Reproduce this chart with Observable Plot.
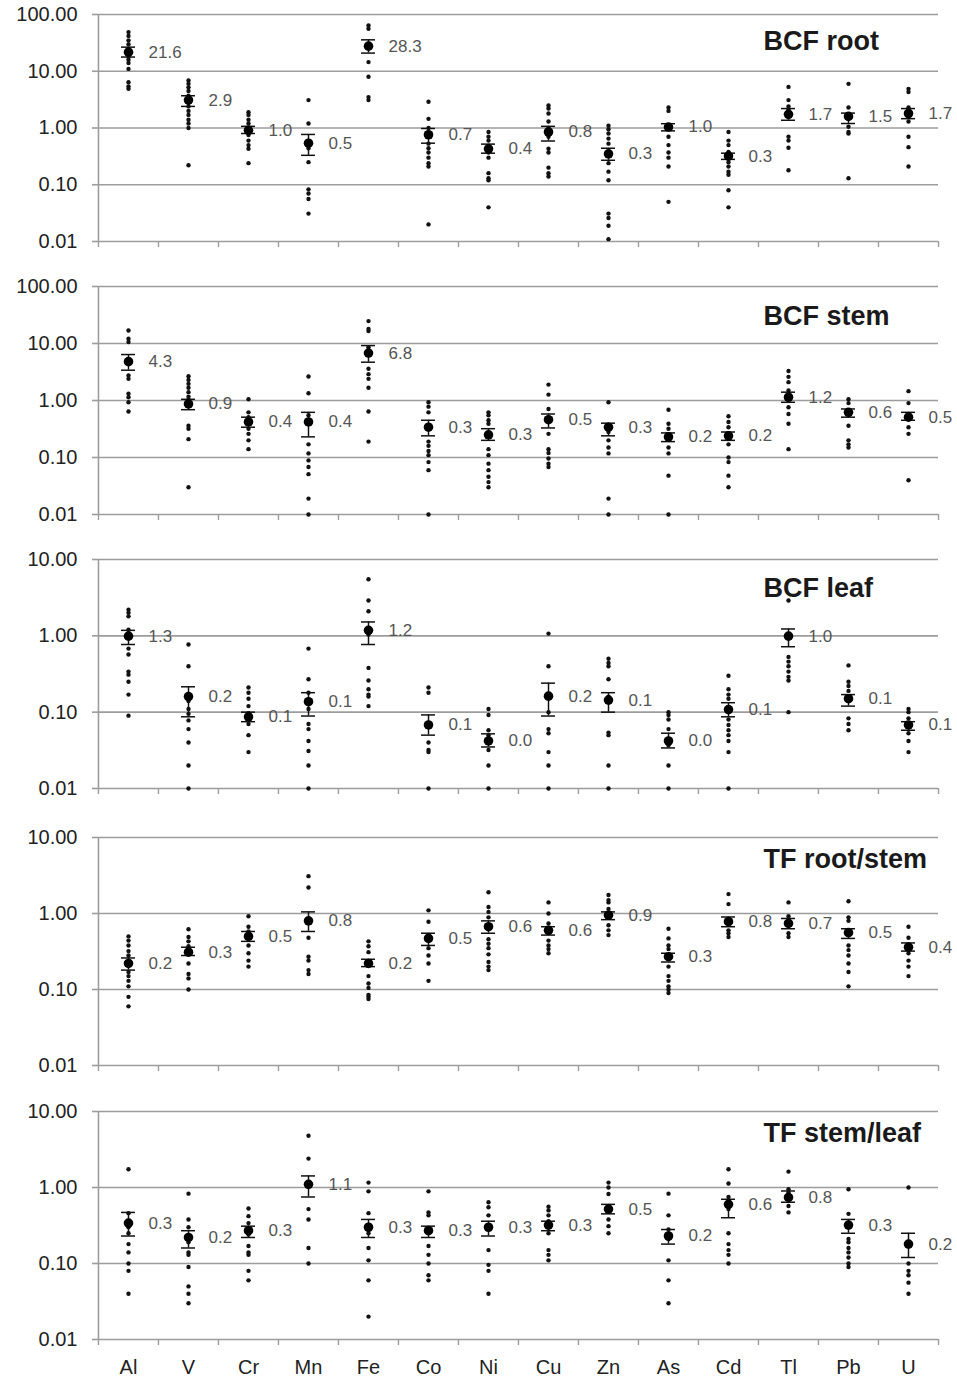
<!DOCTYPE html>
<html><head><meta charset="utf-8">
<script src="https://cdn.jsdelivr.net/npm/d3@7"></script>
<script src="https://cdn.jsdelivr.net/npm/@observablehq/plot@0.6"></script>
<style>
html,body{margin:0;padding:0;background:#fff;}
#chart{position:relative;width:957px;height:1379px;font-family:"Liberation Sans",Arial,sans-serif;}
#chart svg{position:absolute;left:0;overflow:visible;}
</style></head><body><div id="chart"></div>
<script>
const elements = ["Al","V","Cr","Mn","Fe","Co","Ni","Cu","Zn","As","Cd","Tl","Pb","U"];
const ticksWide = [0.01, 0.1, 1, 10, 100];
const ticksNarrow = [0.01, 0.1, 1, 10];

// ---- BCF root ----
const rootDots = [
  [49, 42, 35, 30, 25, 18, 16, 14, 11, 6.4, 5.4, 4.9],
  [6.9, 6.0, 5.2, 4.5, 3.7, 2.8, 2.4, 2.0, 1.7, 1.4, 1.2, 1.0, 0.22],
  [1.9, 1.7, 1.4, 1.2, 1.0, 0.87, 0.75, 0.6, 0.5, 0.43, 0.24],
  [3.1, 1.2, 0.44, 0.25, 0.083, 0.07, 0.056, 0.031],
  [64, 56, 30, 14.5, 8, 3.5, 3.1],
  [2.9, 1.45, 1.0, 0.53, 0.44, 0.37, 0.3, 0.24, 0.21, 0.02],
  [0.85, 0.7, 0.6, 0.45, 0.37, 0.3, 0.16, 0.13, 0.12, 0.04],
  [2.5, 2.2, 1.8, 1.3, 1.0, 0.7, 0.43, 0.37, 0.2, 0.16, 0.14],
  [1.1, 0.95, 0.8, 0.65, 0.53, 0.24, 0.17, 0.12, 0.031, 0.026, 0.019, 0.011],
  [2.3, 2.0, 0.7, 0.5, 0.37, 0.3, 0.21, 0.05],
  [0.85, 0.6, 0.5, 0.38, 0.25, 0.21, 0.17, 0.15, 0.08, 0.04],
  [5.3, 3.1, 2.4, 2.1, 0.7, 0.6, 0.45, 0.18],
  [6.0, 2.3, 1.05, 0.85, 0.8, 0.13],
  [4.9, 4.3, 2.3, 2.0, 1.6, 1.3, 0.7, 0.46, 0.21]
];
const rootMean = [21.7, 3.1, 0.91, 0.54, 27.7, 0.76, 0.43, 0.85, 0.35, 1.04, 0.32, 1.74, 1.6, 1.8];
const rootLo   = [17.8, 2.4, 0.8, 0.33, 20.9, 0.54, 0.36, 0.59, 0.27, 0.89, 0.28, 1.37, 1.2, 1.46];
const rootHi   = [26.6, 3.7, 1.07, 0.77, 35.8, 0.98, 0.52, 1.07, 0.44, 1.19, 0.36, 2.2, 1.83, 2.2];
const rootLabels = ["21.6","2.9","1.0","0.5","28.3","0.7","0.4","0.8","0.3","1.0","0.3","1.7","1.5","1.7"];

// ---- BCF stem ----
const stemDots = [
  [16.9, 12.1, 10.6, 2.75, 2.4, 1.31, 1.14, 0.93, 0.64],
  [2.67, 2.3, 1.96, 1.67, 1.4, 1.17, 1.03, 0.36, 0.32, 0.21, 0.03],
  [1.05, 0.62, 0.51, 0.32, 0.26, 0.2, 0.14],
  [2.64, 1.34, 0.55, 0.17, 0.118, 0.089, 0.068, 0.051, 0.019, 0.01],
  [24.7, 18, 16.5, 8.6, 3.6, 2.9, 2.4, 1.67, 0.64, 0.19],
  [0.93, 0.78, 0.62, 0.19, 0.16, 0.13, 0.11, 0.083, 0.06, 0.01],
  [0.62, 0.55, 0.45, 0.39, 0.14, 0.11, 0.078, 0.06, 0.046, 0.037, 0.03],
  [1.9, 1.27, 0.71, 0.26, 0.14, 0.12, 0.096, 0.078, 0.068],
  [0.93, 0.28, 0.2, 0.15, 0.118, 0.019, 0.01],
  [0.69, 0.39, 0.32, 0.15, 0.118, 0.048, 0.01],
  [0.53, 0.42, 0.34, 0.17, 0.1, 0.083, 0.048, 0.03],
  [3.3, 2.6, 2.1, 1.5, 0.76, 0.58, 0.39, 0.14],
  [1.05, 0.9, 0.36, 0.2, 0.17, 0.15],
  [1.46, 0.9, 0.34, 0.26, 0.04]
];
const stemMean = [4.8, 0.87, 0.42, 0.42, 6.8, 0.34, 0.25, 0.46, 0.34, 0.23, 0.24, 1.14, 0.62, 0.51];
const stemLo   = [3.4, 0.69, 0.34, 0.23, 4.7, 0.24, 0.2, 0.33, 0.24, 0.19, 0.2, 0.93, 0.51, 0.45];
const stemHi   = [6.4, 1.05, 0.51, 0.62, 9.2, 0.45, 0.32, 0.58, 0.4, 0.27, 0.28, 1.4, 0.71, 0.62];
const stemLabels = ["4.3","0.9","0.4","0.4","6.8","0.3","0.3","0.5","0.3","0.2","0.2","1.2","0.6","0.5"];

// ---- BCF leaf ----
const leafDots = [
  [2.2, 2.0, 1.8, 1.2, 0.68, 0.57, 0.34, 0.31, 0.25, 0.17, 0.09],
  [0.77, 0.4, 0.14, 0.11, 0.095, 0.078, 0.06, 0.04, 0.02, 0.01],
  [0.21, 0.18, 0.15, 0.12, 0.097, 0.07, 0.05, 0.03],
  [0.68, 0.27, 0.18, 0.11, 0.07, 0.06, 0.042, 0.031, 0.02, 0.01],
  [5.5, 2.9, 2.1, 1.04, 0.38, 0.26, 0.2, 0.17, 0.16, 0.12],
  [0.21, 0.18, 0.04, 0.032, 0.03, 0.01],
  [0.11, 0.092, 0.058, 0.05, 0.032, 0.02, 0.01],
  [1.07, 0.4, 0.1, 0.06, 0.053, 0.03, 0.02, 0.01],
  [0.5, 0.44, 0.4, 0.27, 0.16, 0.054, 0.05, 0.02, 0.01],
  [0.1, 0.092, 0.08, 0.06, 0.037, 0.02, 0.01],
  [0.3, 0.2, 0.17, 0.15, 0.08, 0.068, 0.058, 0.05, 0.042, 0.03, 0.01],
  [2.9, 0.53, 0.46, 0.4, 0.34, 0.29, 0.26, 0.1],
  [0.41, 0.25, 0.22, 0.19, 0.083, 0.07, 0.058],
  [0.11, 0.1, 0.083, 0.053, 0.042, 0.03]
];
const leafMean = [0.99, 0.16, 0.087, 0.137, 1.18, 0.068, 0.042, 0.162, 0.144, 0.042, 0.108, 0.99, 0.15, 0.068];
const leafLo   = [0.77, 0.087, 0.075, 0.089, 0.77, 0.05, 0.035, 0.089, 0.1, 0.034, 0.087, 0.72, 0.12, 0.058];
const leafHi   = [1.18, 0.215, 0.1, 0.18, 1.52, 0.092, 0.052, 0.24, 0.18, 0.053, 0.133, 1.23, 0.17, 0.075];
const leafLabels = ["1.3","0.2","0.1","0.1","1.2","0.1","0.0","0.2","0.1","0.0","0.1","1.0","0.1","0.1"];

// ---- TF root/stem ----
const tfRsDots = [
  [0.5, 0.44, 0.38, 0.32, 0.28, 0.17, 0.15, 0.13, 0.11, 0.08, 0.06],
  [0.62, 0.49, 0.43, 0.37, 0.22, 0.16, 0.14, 0.1],
  [0.92, 0.67, 0.58, 0.38, 0.3, 0.24, 0.2],
  [3.1, 2.2, 0.48, 0.27, 0.24, 0.18, 0.16],
  [0.43, 0.37, 0.31, 0.15, 0.12, 0.105, 0.085, 0.08, 0.075],
  [1.1, 0.78, 0.35, 0.28, 0.22, 0.13],
  [1.9, 1.22, 1.05, 0.89, 0.46, 0.4, 0.35, 0.29, 0.23, 0.2, 0.18],
  [1.4, 1.0, 0.74, 0.44, 0.38, 0.34, 0.3],
  [1.75, 1.5, 1.4, 1.15, 0.7, 0.6, 0.52],
  [0.63, 0.47, 0.38, 0.34, 0.2, 0.15, 0.13, 0.11, 0.1, 0.09],
  [1.8, 1.33, 0.6, 0.55, 0.49],
  [1.4, 0.92, 0.55, 0.49],
  [1.45, 0.89, 0.8, 0.38, 0.33, 0.28, 0.22, 0.17, 0.11],
  [0.67, 0.48, 0.3, 0.24, 0.2, 0.15]
];
const tfRsMean = [0.22, 0.31, 0.5, 0.8, 0.22, 0.47, 0.67, 0.6, 0.95, 0.27, 0.78, 0.74, 0.56, 0.36];
const tfRsLo   = [0.18, 0.28, 0.43, 0.58, 0.2, 0.38, 0.55, 0.52, 0.83, 0.23, 0.67, 0.63, 0.47, 0.32];
const tfRsHi   = [0.26, 0.36, 0.58, 1.05, 0.25, 0.55, 0.8, 0.67, 1.05, 0.3, 0.9, 0.86, 0.63, 0.41];
const tfRsLabels = ["0.2","0.3","0.5","0.8","0.2","0.5","0.6","0.6","0.9","0.3","0.8","0.7","0.5","0.4"];

// ---- TF stem/leaf ----
const tfSlDots = [
  [1.74, 0.46, 0.3, 0.25, 0.18, 0.14, 0.1, 0.08, 0.04],
  [0.83, 0.38, 0.3, 0.19, 0.14, 0.13, 0.09, 0.05, 0.04, 0.03],
  [0.53, 0.42, 0.34, 0.24, 0.17, 0.14, 0.13, 0.08, 0.06],
  [4.8, 2.4, 0.52, 0.38, 0.16, 0.1],
  [1.16, 0.89, 0.46, 0.25, 0.16, 0.11, 0.06, 0.02],
  [0.89, 0.47, 0.43, 0.17, 0.13, 0.1, 0.07, 0.06],
  [0.64, 0.55, 0.43, 0.15, 0.096, 0.08, 0.04],
  [0.56, 0.5, 0.43, 0.36, 0.25, 0.15, 0.13, 0.11],
  [1.16, 1.0, 0.82, 0.38, 0.31, 0.25],
  [0.83, 0.43, 0.28, 0.21, 0.11, 0.06, 0.03],
  [1.74, 1.13, 0.75, 0.52, 0.25, 0.18, 0.15, 0.13, 0.1],
  [1.62, 0.95, 0.86, 0.57, 0.47],
  [0.95, 0.45, 0.21, 0.19, 0.16, 0.14, 0.12, 0.1, 0.09],
  [1.0, 0.1, 0.08, 0.07, 0.056, 0.04]
];
const tfSlMean = [0.34, 0.22, 0.27, 1.1, 0.3, 0.27, 0.3, 0.32, 0.52, 0.23, 0.6, 0.74, 0.32, 0.18];
const tfSlLo   = [0.23, 0.16, 0.22, 0.75, 0.22, 0.22, 0.23, 0.27, 0.45, 0.18, 0.4, 0.64, 0.25, 0.12];
const tfSlHi   = [0.47, 0.27, 0.31, 1.42, 0.38, 0.31, 0.36, 0.36, 0.6, 0.28, 0.7, 0.9, 0.38, 0.25];
const tfSlLabels = ["0.3","0.2","0.3","1.1","0.3","0.3","0.3","0.3","0.5","0.2","0.6","0.8","0.3","0.2"];

const panelTitles = ["BCF root", "BCF stem", "BCF leaf", "TF root/stem", "TF stem/leaf"];

// layout (not data)
const layout = [
  {top: 14,   h: 227, titleDy: 16},
  {top: 286,  h: 228, titleDy: 19},
  {top: 559,  h: 229, titleDy: 18},
  {top: 837,  h: 228, titleDy: 11},
  {top: 1111, h: 228, titleDy: 11}
];
const series = [
  {dots: rootDots, mean: rootMean, lo: rootLo, hi: rootHi, labels: rootLabels, ticks: ticksWide},
  {dots: stemDots, mean: stemMean, lo: stemLo, hi: stemHi, labels: stemLabels, ticks: ticksWide},
  {dots: leafDots, mean: leafMean, lo: leafLo, hi: leafHi, labels: leafLabels, ticks: ticksNarrow},
  {dots: tfRsDots, mean: tfRsMean, lo: tfRsLo, hi: tfRsHi, labels: tfRsLabels, ticks: ticksNarrow},
  {dots: tfSlDots, mean: tfSlMean, lo: tfSlLo, hi: tfSlHi, labels: tfSlLabels, ticks: ticksNarrow}
];

const W = 957, ML = 97, MR = 19, MT = 10;
const bw = (W - ML - MR) / elements.length;
const FONT = "'Liberation Sans', Arial, Helvetica, sans-serif";
const GRID = "#9c9c9c";
const container = document.getElementById("chart");

series.forEach((s, p) => {
  const L = layout[p];
  const last = p === series.length - 1;
  const MB = last ? 45 : 12;
  const dotRows = s.dots.flatMap((arr, i) => arr.map(v => ({el: elements[i], v})));
  const stats = elements.map((el, i) => ({el, m: s.mean[i], lo: s.lo[i], hi: s.hi[i], label: s.labels[i]}));
  const marks = [
    Plot.ruleY(s.ticks, {y: d => d, stroke: GRID, strokeWidth: 1.6}),
    Plot.axisY({ticks: s.ticks, tickFormat: d3.format(".2f"), tickSize: 5, tickPadding: 15, label: null,
      stroke: GRID, strokeWidth: 1.6, fill: "#222", fontSize: 20}),
    Plot.ruleX([elements[0]], {x: d => d, dx: -bw / 2, stroke: GRID, strokeWidth: 1.6}),
    Plot.ruleX(elements, {x: d => d, dx: -bw / 2, insetTop: L.h, insetBottom: -6, stroke: GRID, strokeWidth: 1.4}),
    Plot.ruleX([elements[elements.length - 1]], {x: d => d, dx: bw / 2, insetTop: L.h, insetBottom: -6, stroke: GRID, strokeWidth: 1.4}),
    Plot.text([panelTitles[p]], {frameAnchor: "top-left", text: d => d, dx: 763 - ML, dy: L.titleDy,
      textAnchor: "start", lineAnchor: "top", fontSize: 27, fontWeight: "bold", fill: "#1a1a1a"}),
    Plot.dot(dotRows, {x: "el", y: "v", r: 2.2, fill: "#111", stroke: "none"}),
    Plot.ruleX(stats, {x: "el", y1: "lo", y2: "hi", stroke: "#111", strokeWidth: 1.5}),
    Plot.tickY(stats, {x: "el", y: "lo", insetLeft: 23, insetRight: 23, stroke: "#111", strokeWidth: 1.5}),
    Plot.tickY(stats, {x: "el", y: "hi", insetLeft: 23, insetRight: 23, stroke: "#111", strokeWidth: 1.5}),
    Plot.dot(stats, {x: "el", y: "m", r: 4.8, fill: "#000", stroke: "none"}),
    Plot.text(stats, {x: "el", y: "m", text: "label", dx: 20, textAnchor: "start", fill: "#555", fontSize: 17})
  ];
  if (last) marks.push(Plot.axisX({tickSize: 0, tickPadding: 20, fontSize: 20, fill: "#222", label: null}));
  const chart = Plot.plot({
    width: W,
    height: MT + L.h + MB,
    marginTop: MT, marginBottom: MB, marginLeft: ML, marginRight: MR,
    x: last ? {type: "band", domain: elements, padding: 0, label: null} : {type: "band", domain: elements, padding: 0, axis: null, label: null},
    y: {type: "log", domain: [0.01, s.ticks[s.ticks.length - 1]], label: null},
    style: {fontFamily: FONT, background: "transparent", overflow: "visible"},
    marks
  });
  chart.style.top = (L.top - MT) + "px";
  container.appendChild(chart);
});
</script>
</body></html>
